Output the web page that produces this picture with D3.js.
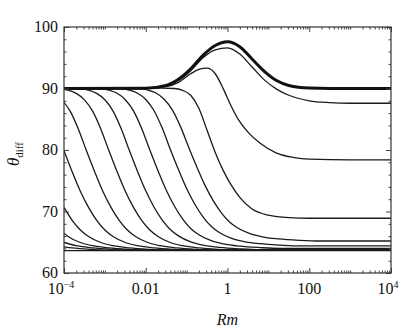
<!DOCTYPE html>
<meta charset="utf-8">
<head>
<script src="https://d3js.org/d3.v7.min.js"></script>
</head>
<style>
    body { margin: 0; background: #fff; }
    svg { font-family: 'Liberation Serif', 'Times New Roman', serif; }
    .curve { fill: none; stroke: #1a1a1a; stroke-width: 1.3; stroke-linejoin: round; }
    .curve.thick { stroke-width: 3; stroke: #111; }
    .tick line { stroke: #444; }
    .lab { font-size: 16px; fill: #111; font-family: 'Liberation Serif', 'Times New Roman', serif; }
</style>
<svg width="404" height="330"></svg>
<script>
    // each curve: [log10(Rm), theta_diff]
    var curveA = [[-4,90],[-2,90.05],[-1.5,90.5],[-1.2,91.5],[-0.9,93.2],[-0.6,95.4],[-0.3,97],[0,97.6],[0.3,96.8],[0.6,94.8],[0.9,92.8],[1.2,91.3],[1.5,90.5],[2,90.1],[3,90],[4,90]];
    var curveB = [[-4,90],[-2,90],[-1.5,90.4],[-1.2,91.3],[-0.9,92.9],[-0.6,95],[-0.3,96.3],[0,96.6],[0.3,95.6],[0.6,93.5],[0.9,91.4],[1.2,89.9],[1.5,88.9],[2,88],[2.5,87.7],[3,87.6],[4,87.6]];
    var curveC = [[-4,90],[-2,90],[-1.5,90.3],[-1.2,91],[-0.9,92.4],[-0.7,93.1],[-0.5,93.3],[-0.3,92.4],[-0.1,89.9],[0.1,87.0],[0.3,84.6],[0.5,82.9],[0.8,81.1],[1.2,79.5],[1.6,78.8],[2,78.5],[3,78.4],[4,78.4]];
    var curveD = [[-4,90],[-1.6,90.05],[-1.3,90.0],[-1.1,89.7],[-0.9,88.9],[-0.7,86.8],[-0.5,83.2],[-0.3,79.6],[-0.1,76.6],[0.1,74.2],[0.3,72.3],[0.6,70.4],[1.0,69.4],[1.5,69.0],[2.0,68.9],[4,68.9]];
    var curveE = [[-4,90],[-2.15,90],[-1.95,89.75],[-1.75,89.26],[-1.55,88.26],[-1.35,86.53],[-1.15,83.8],[-0.95,80.45],[-0.75,77.23],[-0.55,74.25],[-0.35,71.77],[-0.15,69.79],[0.05,68.3],[0.25,67.31],[0.55,66.39],[0.85,65.89],[1.25,65.55],[1.75,65.32],[2.25,65.2],[4,65.2]];
    var curveF = [[-4,90],[-2.6,90],[-2.4,89.74],[-2.2,89.23],[-2.0,88.21],[-1.8,86.42],[-1.6,83.6],[-1.4,80.14],[-1.2,76.82],[-1.0,73.74],[-0.8,71.18],[-0.6,69.14],[-0.4,67.6],[-0.2,66.58],[0.1,65.63],[0.4,65.12],[0.8,64.76],[1.3,64.53],[1.8,64.4],[4,64.4]];
    var curveG = [[-4,90],[-3.1,90],[-2.9,89.74],[-2.7,89.22],[-2.5,88.18],[-2.3,86.36],[-2.1,83.5],[-1.9,79.99],[-1.7,76.61],[-1.5,73.49],[-1.3,70.89],[-1.1,68.81],[-0.9,67.25],[-0.7,66.21],[-0.4,65.25],[-0.1,64.73],[0.3,64.36],[0.8,64.13],[1.3,64.0],[4,64.0]];
    var curveH = [[-4,90],[-3.6,90],[-3.4,89.74],[-3.2,89.21],[-3.0,88.17],[-2.8,86.33],[-2.6,83.45],[-2.4,79.91],[-2.2,76.51],[-2.0,73.36],[-1.8,70.74],[-1.6,68.65],[-1.4,67.07],[-1.2,66.03],[-0.9,65.06],[-0.6,64.53],[-0.2,64.17],[0.3,63.93],[0.8,63.8],[4,63.8]];
    var curveI = [[-4,89.87],[-3.9,89.74],[-3.7,89.21],[-3.5,88.16],[-3.3,86.32],[-3.1,83.42],[-2.9,79.87],[-2.7,76.46],[-2.5,73.30],[-2.3,70.67],[-2.1,68.57],[-1.9,66.99],[-1.7,65.94],[-1.4,64.96],[-1.1,64.44],[-0.7,64.07],[-0.2,63.83],[0.3,63.7],[4,63.7]];
    var curveJ = [[-4,87.76],[-3.85,86.32],[-3.65,83.42],[-3.45,79.87],[-3.25,76.46],[-3.05,73.30],[-2.85,70.67],[-2.65,68.57],[-2.45,66.99],[-2.25,65.94],[-1.95,64.96],[-1.65,64.44],[-1.25,64.07],[-0.75,63.83],[-0.25,63.7],[4,63.7]];
    var curveK = [[-4,79.87],[-3.8,76.46],[-3.6,73.30],[-3.4,70.67],[-3.2,68.57],[-3.0,66.99],[-2.8,65.94],[-2.5,64.96],[-2.2,64.44],[-1.8,64.07],[-1.3,63.83],[-0.8,63.7],[4,63.7]];
    var curveL = [[-4,70.67],[-3.8,68.57],[-3.6,66.99],[-3.4,65.94],[-3.1,64.96],[-2.8,64.44],[-2.4,64.07],[-1.9,63.83],[-1.4,63.7],[4,63.7]];
    var curveM = [[-4,66.46],[-3.9,65.94],[-3.6,64.96],[-3.3,64.44],[-2.9,64.07],[-2.4,63.83],[-1.9,63.7],[4,63.7]];
    var curveN = [[-4,64.96],[-3.7,64.44],[-3.3,64.07],[-2.8,63.83],[-2.3,63.7],[4,63.7]];
    var curveO = [[-4,64.25],[-3.8,64.07],[-3.3,63.83],[-2.8,63.7],[4,63.7]];
    var curveP = [[-4,63.65],[4,63.65]];

    var thinCurves = [curveB, curveC, curveD, curveE, curveF, curveG, curveH, curveI,
                      curveJ, curveK, curveL, curveM, curveN, curveO, curveP];

    var yMajor = [60, 70, 80, 90, 100];
    var yMinor = [62, 64, 66, 68, 72, 74, 76, 78, 82, 84, 86, 88, 92, 94, 96, 98];
    var xMajor = [1e-4, 1e-2, 1, 1e2, 1e4];
    var xLabels = [["10", "\u22124"], ["0.01", ""], ["1", ""], ["100", ""], ["10", "4"]];

    var svg = d3.select("svg");
    var mLeft = 64, mRight = 391, mTop = 27, mBottom = 273;

    var x = d3.scaleLog().domain([1e-4, 1e4]).range([mLeft, mRight]);
    var y = d3.scaleLinear().domain([60, 100]).range([mBottom, mTop]);

    var line = d3.line()
        .x(function(d) { return x(Math.pow(10, d[0])); })
        .y(function(d) { return y(d[1]); })
        .curve(d3.curveMonotoneX);

    svg.append("defs").append("clipPath").attr("id", "clip")
        .append("rect").attr("x", mLeft).attr("y", mTop)
        .attr("width", mRight - mLeft).attr("height", mBottom - mTop);

    var plot = svg.append("g").attr("clip-path", "url(#clip)");
    plot.selectAll(".thin")
        .data(thinCurves)
        .enter().append("path")
        .attr("class", "curve")
        .attr("d", line);
    plot.append("path")
        .datum(curveA)
        .attr("class", "curve thick")
        .attr("d", line);

    // ticks, all pointing inward
    var xMinor = x.ticks().filter(function(v) { return xMajor.indexOf(v) < 0; });

    function clean(g) {
        g.select(".domain").remove();
        g.attr("font-family", null).attr("font-size", null);
    }

    svg.append("g").attr("transform", "translate(" + mLeft + ",0)")
        .call(d3.axisLeft(y).tickValues(yMajor).tickSize(-5).tickPadding(6)
            .tickFormat(d3.format("d")))
        .call(clean)
        .selectAll("text").attr("class", "lab").attr("dy", "0.3em");
    svg.append("g").attr("transform", "translate(" + mLeft + ",0)")
        .call(d3.axisLeft(y).tickValues(yMinor).tickSize(-2.5).tickFormat(""))
        .call(clean);
    svg.append("g").attr("transform", "translate(" + mRight + ",0)")
        .call(d3.axisRight(y).tickValues(yMajor).tickSize(-5).tickFormat(""))
        .call(clean);
    svg.append("g").attr("transform", "translate(" + mRight + ",0)")
        .call(d3.axisRight(y).tickValues(yMinor).tickSize(-2.5).tickFormat(""))
        .call(clean);

    svg.append("g").attr("transform", "translate(0," + mBottom + ")")
        .call(d3.axisBottom(x).tickValues(xMajor).tickSize(-5).tickFormat(""))
        .call(clean);
    svg.append("g").attr("transform", "translate(0," + mBottom + ")")
        .call(d3.axisBottom(x).tickValues(xMinor).tickSize(-2.5).tickFormat(""))
        .call(clean);
    svg.append("g").attr("transform", "translate(0," + mTop + ")")
        .call(d3.axisTop(x).tickValues(xMajor).tickSize(-5).tickFormat(""))
        .call(clean);
    svg.append("g").attr("transform", "translate(0," + mTop + ")")
        .call(d3.axisTop(x).tickValues(xMinor).tickSize(-2.5).tickFormat(""))
        .call(clean);

    // frame
    svg.append("rect")
        .attr("x", mLeft).attr("y", mTop)
        .attr("width", mRight - mLeft).attr("height", mBottom - mTop)
        .attr("fill", "none").attr("stroke", "#333").attr("stroke-width", 1.2);

    // x tick labels with superscripts
    var xl = svg.append("g").selectAll("text")
        .data(xMajor)
        .enter().append("text")
        .attr("class", "lab")
        .attr("text-anchor", "middle")
        .attr("x", function(d, i) { return x(d) - (xLabels[i][1] ? 3 : 0); })
        .attr("y", mBottom + 21);
    xl.append("tspan").text(function(d, i) { return xLabels[i][0]; });
    xl.append("tspan")
        .attr("dy", -6)
        .style("font-size", "10px")
        .text(function(d, i) { return xLabels[i][1]; });

    // axis titles
    svg.append("text")
        .attr("class", "lab")
        .attr("x", (mLeft + mRight) / 2)
        .attr("y", 325)
        .attr("text-anchor", "middle")
        .style("font-style", "italic")
        .text("Rm");

    var yt = svg.append("text")
        .attr("class", "lab")
        .attr("transform", "translate(19,154) rotate(-90)")
        .attr("text-anchor", "middle");
    yt.append("tspan").style("font-style", "italic").style("font-size", "17px").text("\u03b8");
    yt.append("tspan").attr("dy", 4).style("font-size", "11px").text("diff");
</script>
